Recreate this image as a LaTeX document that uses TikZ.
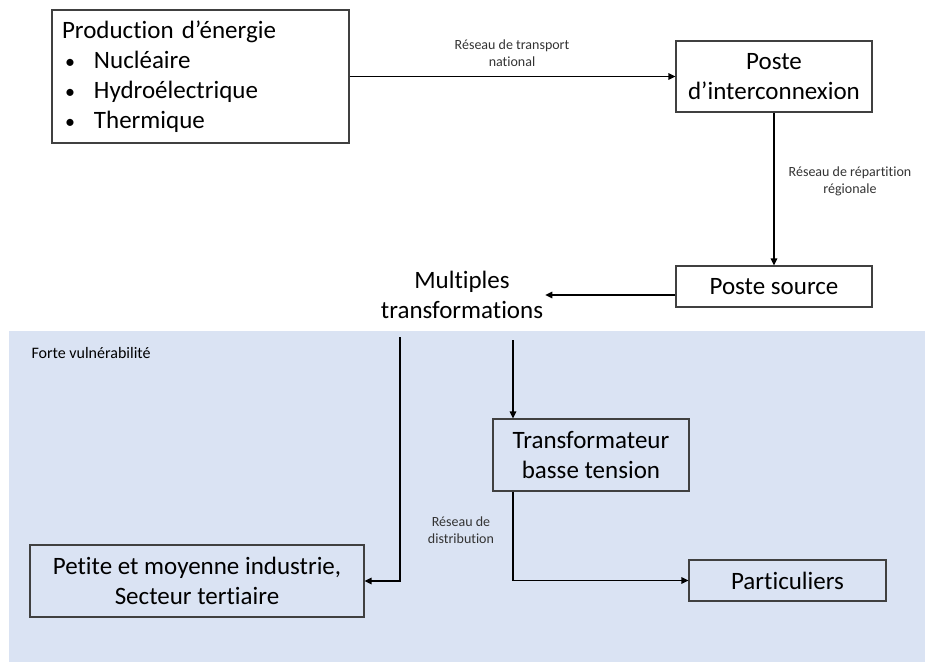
\documentclass[tikz,border=0pt]{standalone}
\usepackage{fontspec}
\setmainfont{Carlito}[Ligatures=NoCommon]
\usetikzlibrary{arrows.meta}
\definecolor{zonebleue}{HTML}{DAE3F3}
\definecolor{bord}{HTML}{404040}
\begin{document}
\begin{tikzpicture}[x=1pt,y=-1pt,
  boite/.style={draw=bord,line width=1.1pt,inner sep=0pt,align=center,
    font=\fontsize{25}{30}\selectfont},
  fleche/.style={line width=1.5pt,-{Triangle[length=7pt,width=6.5pt]}},
  petit/.style={align=center,font=\fontsize{14}{17}\selectfont,text=black!80}]
  \useasboundingbox (0,0) rectangle (932,664);
  %%%%%%%%%%%%%Zone de vulnerabilite%%%%%%%%%%%%%%%%%%%%%%
  \fill[zonebleue] (9,331) rectangle (925,662);
  \node[anchor=west,font=\fontsize{16}{19}\selectfont] (forte) at (28,353) {Forte vulnérabilité};

  %%%%%%%%%%%%%Boites%%%%%%%%%%%%%%%%%%%%%%
  \node[boite,minimum width=297pt,minimum height=133pt,align=left,
    text width=277pt] (prod) at (200.5,76.5)
    {Production d’énergie\\
     \hspace*{3pt}\makebox[29pt][l]{\fontsize{20}{30}\selectfont•}Nucléaire\\
     \hspace*{3pt}\makebox[29pt][l]{\fontsize{20}{30}\selectfont•}Hydroélectrique\\
     \hspace*{3pt}\makebox[29pt][l]{\fontsize{20}{30}\selectfont•}Thermique};
  \node[boite,minimum width=196pt,minimum height=71pt] (inter) at (774,76.5) {Poste\\d’interconnexion};
  \node[boite,minimum width=196pt,minimum height=41pt] (src) at (774,286.5) {Poste source};
  \node[align=center,font=\fontsize{25}{30}\selectfont,inner sep=2pt] (multi) at (462,295) {Multiples\\transformations};
  \node[boite,minimum width=196pt,minimum height=72pt] (bt) at (591,455) {Transformateur\\basse tension};
  \node[boite,minimum width=334pt,minimum height=72pt] (pme) at (197,581) {Petite et moyenne industrie,\\Secteur tertiaire};
  \node[boite,minimum width=197pt,minimum height=41pt] (part) at (787.5,580.5) {Particuliers};

  %%%%%%%%%%%%%Liaisons%%%%%%%%%%%%%%%%%%%%%%
  \coordinate (d1) at (400,337);
  \coordinate (d2) at (513,340);
  \draw[fleche] (prod.east) -- (inter.west);
  \draw[fleche] (inter.south) -- (src.north);
  \draw[fleche] (src.west |- multi.east) -- (multi.east);
  \draw[fleche] (d1) |- (pme.east);
  \draw[fleche] (d2) -- (d2 |- bt.north);
  \draw[fleche] (d2 |- bt.south) |- (part.west);

  \node[petit] (transp) at (512,53.5) {Réseau de transport\\national};
  \node[petit] (repart) at (850,181.5) {Réseau de répartition\\régionale};
  \node[petit] (distrib) at (461,530) {Réseau de\\distribution};
\end{tikzpicture}
\end{document}
